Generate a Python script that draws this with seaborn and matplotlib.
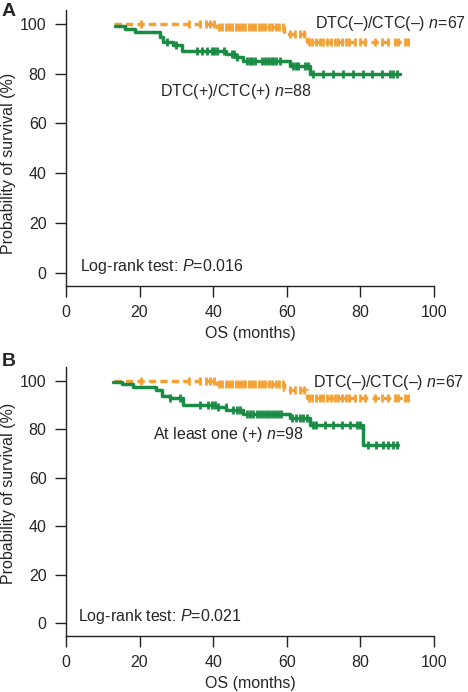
import numpy as np
import seaborn as sns
import matplotlib
import matplotlib.pyplot as plt

# Kaplan-Meier step data (time in months, survival in %)
neg_times = [13.0, 41.0, 59.3, 65.4, 93.2]
neg_surv = [100.0, 98.5, 96.0, 92.6, 92.6]
neg_censor = [20.5, 33.5, 36.5, 38.0, 39.2, 40.3, 41.5, 42.5, 43.4, 44.3, 45.2,
              46.1, 47.0, 47.9, 48.8, 49.7, 50.6, 51.5, 52.4, 53.3, 54.2, 55.1,
              56.0, 57.0, 58.0, 59.0, 61.0, 62.3, 63.5, 64.8, 66.0, 67.0, 68.0,
              69.0, 70.0, 71.0, 72.0, 73.0, 74.0, 75.0, 76.0, 77.0, 78.5, 79.9,
              81.3, 84.0, 85.8, 87.5, 89.4, 90.2, 92.1, 93.0]

pos_a_times = [13.3, 16.0, 18.8, 25.5, 26.4, 29.0, 31.5, 43.6, 46.0, 48.2, 60.9, 66.3, 90.8]
pos_a_surv = [98.9, 97.7, 96.6, 94.8, 92.5, 91.4, 89.0, 87.8, 86.6, 84.9, 82.9, 80.0, 80.0]
pos_a_censor = [27.4, 30.0, 35.5, 36.9, 38.2, 39.6, 40.3, 41.0, 43.0, 45.0, 45.7,
                46.4, 49.1, 49.9, 50.6, 51.4, 53.2, 54.0, 54.8, 55.6, 56.4, 57.2,
                58.2, 61.7, 62.4, 63.0, 65.0, 65.7, 67.2, 69.9, 72.6, 75.4, 78.1,
                80.8, 83.1, 85.8, 88.0, 88.9, 90.0]

pos_b_times = [12.9, 15.1, 18.3, 24.6, 26.0, 28.3, 31.9, 41.0, 43.6, 48.2, 60.9, 66.3, 80.8, 90.2]
pos_b_surv = [99.3, 98.4, 97.3, 95.9, 93.8, 92.9, 90.0, 89.0, 88.0, 86.3, 84.7, 81.5, 73.6, 73.6]
pos_b_censor = [28.3, 31.0, 36.4, 38.7, 39.6, 40.5, 41.3, 43.5, 45.5, 46.4, 47.3,
                49.1, 50.0, 50.9, 51.8, 52.7, 53.5, 54.3, 55.1, 55.9, 56.7, 57.5,
                58.4, 61.5, 62.5, 63.5, 64.5, 65.5, 67.1, 68.1, 70.4, 72.6, 74.9,
                77.2, 79.0, 79.9, 82.1, 84.4, 86.2, 87.6, 88.9, 90.0]

x_ticks = [0, 20, 40, 60, 80, 100]
y_ticks = [0, 20, 40, 60, 80, 100]

ORANGE = "#F4A033"
GREEN = "#1B8C45"
FS = 11.5

sns.set_style("ticks")
matplotlib.rcParams["font.family"] = ["Liberation Sans", "DejaVu Sans"]
matplotlib.rcParams["mathtext.fontset"] = "custom"
matplotlib.rcParams["mathtext.rm"] = "Liberation Sans"
matplotlib.rcParams["mathtext.it"] = "Liberation Sans:italic"


def km_at(times, surv, t):
    idx = np.searchsorted(times, t, side="right") - 1
    return np.asarray(surv)[np.clip(idx, 0, None)]


def draw_curve(ax, times, surv, censor, color, dashed=False):
    sns.lineplot(x=times, y=surv, drawstyle="steps-post", estimator=None,
                 sort=False, color=color, linewidth=2.5, ax=ax)
    line = ax.lines[-1]
    if dashed:
        line.set_dashes((2.1, 1.2))
    sns.scatterplot(x=censor, y=km_at(times, surv, censor), marker="|",
                    s=40, linewidth=2.0, color=color, ax=ax, zorder=3)


def style_axes(ax, ylabel_y):
    ax.set_xlim(0, 100)
    ax.set_ylim(-5.3, 105.6)
    ax.set_xticks(x_ticks)
    ax.set_yticks(y_ticks)
    ax.tick_params(direction="out", length=8, width=1, pad=6, labelsize=FS,
                   color="#222222")
    for s in ["left", "bottom"]:
        ax.spines[s].set_linewidth(1)
        ax.spines[s].set_color("#222222")
    sns.despine(ax=ax)
    ax.set_xlabel("OS (months)", fontsize=FS, labelpad=4)
    ax.set_ylabel("Probability of survival (%)", fontsize=FS)
    ax.yaxis.set_label_coords(-0.137, ylabel_y)


fig = plt.figure(figsize=(4.68, 6.92), dpi=100)
ax_a = fig.add_axes([0.141, 0.587, 0.786, 0.3988])
ax_b = fig.add_axes([0.141, 0.081, 0.786, 0.3887])

# Panel A
draw_curve(ax_a, neg_times, neg_surv, neg_censor, ORANGE, dashed=True)
draw_curve(ax_a, pos_a_times, pos_a_surv, pos_a_censor, GREEN)
style_axes(ax_a, 0.444)
ax_a.text(67.7, 100, r"DTC(–)/CTC(–) $\it{n}$=67", fontsize=FS, va="center", clip_on=False)
ax_a.text(25.5, 72.9, r"DTC(+)/CTC(+) $\it{n}$=88", fontsize=FS, va="center")
ax_a.text(3.8, 2.4, r"Log-rank test: $\it{P}$=0.016", fontsize=FS, va="center")

# Panel B
draw_curve(ax_b, neg_times, neg_surv, neg_censor, ORANGE, dashed=True)
draw_curve(ax_b, pos_b_times, pos_b_surv, pos_b_censor, GREEN)
style_axes(ax_b, 0.53)
ax_b.text(67.1, 99.1, r"DTC(–)/CTC(–) $\it{n}$=67", fontsize=FS, va="center", clip_on=False)
ax_b.text(23.6, 77.8, r"At least one (+) $\it{n}$=98", fontsize=FS, va="center")
ax_b.text(3.3, 2.7, r"Log-rank test: $\it{P}$=0.021", fontsize=FS, va="center")

fig.text(0.004, 1 - 12 / 692, "A", fontsize=14, fontweight="bold", va="center")
fig.text(0.004, 1 - 362 / 692, "B", fontsize=14, fontweight="bold", va="center")

fig.savefig("out.png", dpi=100)
